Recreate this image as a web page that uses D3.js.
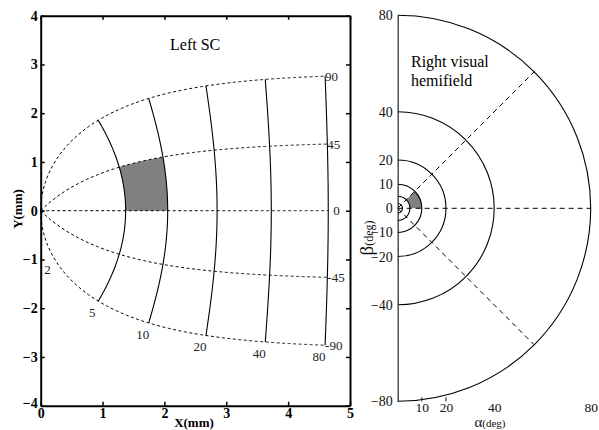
<!DOCTYPE html>
<html>
<head>
<meta charset="utf-8">
<script src="https://cdn.jsdelivr.net/npm/d3@7"></script>
<style>
  body { margin: 0; background: #fff; }
  svg { font-family: "Liberation Serif", "DejaVu Serif", serif; }
</style>
</head>
<body>
<svg width="599" height="430"></svg>
<script>
// Data
const isoEcc = [5, 10, 20, 40, 80];          // solid iso-eccentricity lines (deg)
const eccLabels = [2, 5, 10, 20, 40, 80];    // labels along the -90 meridian
const isoDir = [-90, -45, 0, 45, 90];        // dashed iso-direction lines (deg)
const rightRings = [2, 5, 10, 20, 40, 80];   // rings in the visual field
const rightRays = [-45, 0, 45];
const shadedEcc = [5, 10];
const shadedDir = [0, 45];
const xTicksL = [0, 1, 2, 3, 4, 5];
const yTicksL = [-4, -3, -2, -1, 0, 1, 2, 3, 4];
const yTicksR = [80, 40, 20, 10, 0, -10, -20, -40, -80];
const xTicksR = [10, 20, 40, 80];
const xTickMarksR = [10, 20];

// Ottes et al. collicular map parameters
const A = 3, Bu = 1.4, Bv = 1.8;

function ottes(R, phiDeg) {
  const p = phiDeg * Math.PI / 180;
  const X = Bu * Math.log(Math.sqrt(R * R + 2 * A * R * Math.cos(p) + A * A) / A);
  const Y = Bv * Math.atan2(R * Math.sin(p), R * Math.cos(p) + A);
  return [X, Y];
}

const svg = d3.select("svg");

// ---------- Left panel: SC map ----------
const x = d3.scaleLinear().domain([0, 5]).range([40.7, 350]);
const y = d3.scaleLinear().domain([-4, 4]).range([405.7, 15.7]);
const proj = (R, phi) => { const [X, Y] = ottes(R, phi); return [x(X), y(Y)]; };
const line = d3.line();

const left = svg.append("g");

// shaded patch
const patch = [];
d3.range(shadedDir[0], shadedDir[1] + 0.01, 1).forEach(p => patch.push(proj(shadedEcc[0], p)));
d3.range(shadedEcc[0], shadedEcc[1] + 0.01, 0.1).forEach(r => patch.push(proj(r, shadedDir[1])));
d3.range(shadedDir[1], shadedDir[0] - 0.01, -1).forEach(p => patch.push(proj(shadedEcc[1], p)));
left.append("path")
  .attr("d", line(patch) + "Z")
  .attr("fill", "#808080")
  .attr("stroke", "none");

// dashed iso-direction curves
left.selectAll(".dir")
  .data(isoDir)
  .enter()
  .append("path")
  .attr("d", phi => line(d3.range(0, 80.01, 0.25).map(r => proj(r, phi))))
  .attr("fill", "none")
  .attr("stroke", "#000")
  .attr("stroke-width", 1)
  .attr("stroke-dasharray", "3,2.5");

// solid iso-eccentricity curves
left.selectAll(".ecc")
  .data(isoEcc)
  .enter()
  .append("path")
  .attr("d", r => line(d3.range(-90, 90.01, 1).map(p => proj(r, p))))
  .attr("fill", "none")
  .attr("stroke", "#000")
  .attr("stroke-width", 1.1);

// eccentricity labels
left.selectAll(".eccLab")
  .data(eccLabels)
  .enter()
  .append("text")
  .attr("x", r => proj(r, -90)[0] + (r === 2 ? -9 : -6))
  .attr("y", r => proj(r, -90)[1] + (r === 2 ? 7 : 11))
  .attr("dy", "0.35em")
  .attr("text-anchor", "middle")
  .attr("font-size", 13)
  .attr("fill", "#222")
  .text(d => d);

// direction labels
left.selectAll(".dirLab")
  .data(isoDir)
  .enter()
  .append("text")
  .attr("x", p => proj(80, p)[0] + (p === 0 ? 5 : 0))
  .attr("y", p => proj(80, p)[1])
  .attr("dy", "0.35em")
  .attr("font-size", 13)
  .attr("fill", "#222")
  .text(d => (d < 0 ? "-" : "") + Math.abs(d));

// axes (ticks inward)
function styleAxis(g, showText) {
  g.select(".domain").attr("stroke", "#000").attr("stroke-width", 2);
  g.selectAll(".tick line").attr("stroke", "#000").attr("stroke-width", 1.5);
  g.selectAll(".tick text")
    .attr("font-family", "Liberation Serif")
    .attr("font-weight", "bold")
    .attr("font-size", 14)
    .attr("fill", "#000");
  if (!showText) g.selectAll(".tick text").remove();
}
const fmt = d3.format("d");
left.append("g").attr("transform", `translate(0,${y(-4)})`)
  .call(d3.axisBottom(x).tickValues(xTicksL).tickFormat(fmt).tickSize(-4).tickSizeOuter(0).tickPadding(2))
  .call(g => styleAxis(g, true));
left.append("g").attr("transform", `translate(0,${y(4)})`)
  .call(d3.axisTop(x).tickValues(xTicksL).tickSize(-4).tickSizeOuter(0))
  .call(g => styleAxis(g, false));
left.append("g").attr("transform", `translate(${x(0)},0)`)
  .call(d3.axisLeft(y).tickValues(yTicksL).tickFormat(fmt).tickSize(-4).tickSizeOuter(0).tickPadding(3))
  .call(g => styleAxis(g, true))
  .call(g => g.selectAll(".tick text").filter(d => d === -4).attr("dy", "0.1em"));
left.append("g").attr("transform", `translate(${x(5)},0)`)
  .call(d3.axisRight(y).tickValues(yTicksL).tickSize(-4).tickSizeOuter(0))
  .call(g => styleAxis(g, false));

left.append("text")
  .attr("x", 194).attr("y", 427)
  .attr("text-anchor", "middle")
  .attr("font-weight", "bold")
  .attr("font-size", 13)
  .text("X(mm)");
left.append("text")
  .attr("transform", "translate(22,209) rotate(-90)")
  .attr("text-anchor", "middle")
  .attr("font-weight", "bold")
  .attr("font-size", 13)
  .text("Y(mm)");
left.append("text")
  .attr("x", 170).attr("y", 50)
  .attr("font-size", 16)
  .text("Left SC");

// ---------- Right panel: visual hemifield ----------
const cx = 397.7, cy = 208.3;
const rScale = d3.scaleLinear().domain([0, 80]).range([0, 193]);
const xR = d3.scaleLinear().domain([0, 80]).range([cx, cx + 193]);
const yR = d3.scaleLinear().domain([-80, 80]).range([cy + 193, cy - 193]);
const right = svg.append("g");
const arc = d3.arc();

// shaded sector (angles: d3.arc 0 = up, clockwise)
right.append("path")
  .attr("transform", `translate(${cx},${cy})`)
  .attr("d", arc({
    innerRadius: rScale(shadedEcc[0]),
    outerRadius: rScale(shadedEcc[1]),
    startAngle: (90 - shadedDir[1]) * Math.PI / 180,
    endAngle: (90 - shadedDir[0]) * Math.PI / 180
  }))
  .attr("fill", "#808080");

// rings (right half)
right.selectAll(".ring")
  .data(rightRings)
  .enter()
  .append("path")
  .attr("transform", `translate(${cx},${cy})`)
  .attr("d", r => d3.arc()({ innerRadius: rScale(r), outerRadius: rScale(r), startAngle: 0, endAngle: Math.PI }))
  .attr("fill", "none")
  .attr("stroke", "#000")
  .attr("stroke-width", 1.1);

// dashed rays
right.selectAll(".ray")
  .data(rightRays)
  .enter()
  .append("line")
  .attr("x1", cx).attr("y1", cy)
  .attr("x2", p => cx + rScale(80) * Math.cos(p * Math.PI / 180))
  .attr("y2", p => cy - rScale(80) * Math.sin(p * Math.PI / 180))
  .attr("stroke", "#000")
  .attr("stroke-width", 1)
  .attr("stroke-dasharray", "5,4");

// vertical axis
right.append("g").attr("transform", `translate(${cx},0)`)
  .call(d3.axisLeft(yR).tickValues(yTicksR).tickSize(0).tickPadding(5).tickFormat(fmt))
  .call(g => {
    g.select(".domain").attr("stroke", "#333").attr("stroke-width", 1.3);
    g.selectAll(".tick text").attr("font-family", "Liberation Serif").attr("font-size", 14).attr("fill", "#111");
  });

// bottom labels
right.append("g").attr("transform", `translate(0,${yR(-80)})`)
  .call(d3.axisBottom(xR).tickValues(xTicksR).tickSize(0).tickPadding(1))
  .call(g => {
    g.select(".domain").remove();
    g.selectAll(".tick text").attr("font-family", "Liberation Serif").attr("font-size", 13.5).attr("fill", "#111");
  });
right.selectAll(".tm")
  .data(xTickMarksR)
  .enter()
  .append("line")
  .attr("x1", d => xR(d)).attr("x2", d => xR(d))
  .attr("y1", yR(-80)).attr("y2", yR(-80) - 4)
  .attr("stroke", "#111");

const aLab = right.append("text")
  .attr("x", 490).attr("y", 427)
  .attr("text-anchor", "middle")
  .attr("fill", "#111");
aLab.append("tspan").attr("font-size", 15).text("α");
aLab.append("tspan").attr("font-size", 11).text("(deg)");

const bLab = right.append("text")
  .attr("transform", "translate(373,238) rotate(-90)")
  .attr("text-anchor", "middle")
  .attr("fill", "#111");
bLab.append("tspan").attr("font-size", 19).text("β");
bLab.append("tspan").attr("font-size", 12).text("(deg)");

right.append("text").attr("x", 411).attr("y", 67).attr("font-size", 16).text("Right visual");
right.append("text").attr("x", 411).attr("y", 86).attr("font-size", 16).text("hemifield");
</script>
</body>
</html>
